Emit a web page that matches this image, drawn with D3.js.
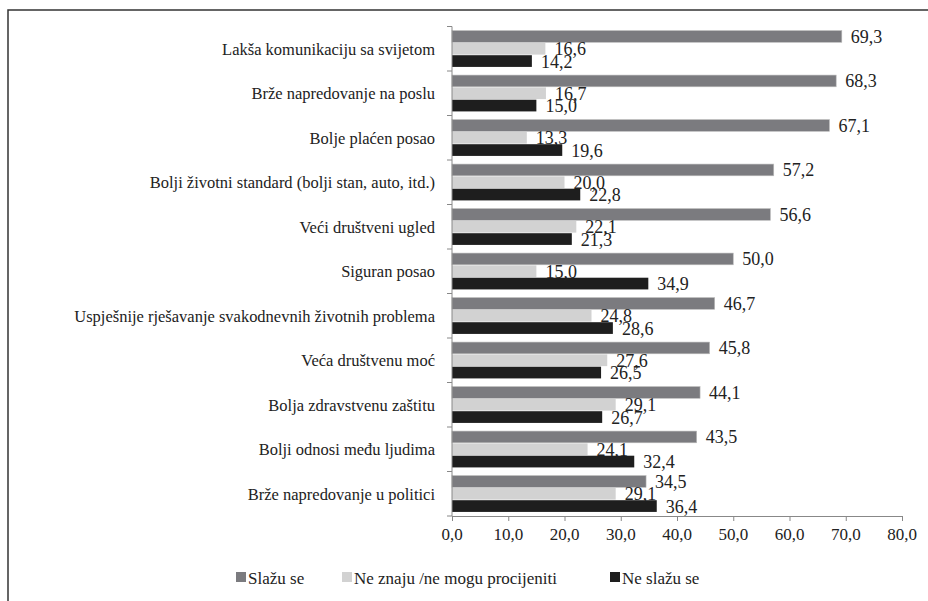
<!DOCTYPE html>
<html>
<head>
<meta charset="utf-8">
<script src="https://cdn.jsdelivr.net/npm/d3@7"></script>
</head>
<body style="margin:0">
<div id="chart"></div>
<script>
var categories = [
  "Lakša komunikaciju sa svijetom",
  "Brže napredovanje na poslu",
  "Bolje plaćen posao",
  "Bolji životni standard (bolji stan, auto, itd.)",
  "Veći društveni ugled",
  "Siguran posao",
  "Uspješnije rješavanje svakodnevnih životnih problema",
  "Veća društvenu moć",
  "Bolja zdravstvenu zaštitu",
  "Bolji odnosi među ljudima",
  "Brže napredovanje u politici"
];
var seriesNames = ["Slažu se", "Ne znaju /ne mogu procijeniti", "Ne slažu se"];
var slazuSe = [69.3, 68.3, 67.1, 57.2, 56.6, 50.0, 46.7, 45.8, 44.1, 43.5, 34.5];
var neZnaju = [16.6, 16.7, 13.3, 20.0, 22.1, 15.0, 24.8, 27.6, 29.1, 24.1, 29.1];
var neSlazuSe = [14.2, 15.0, 19.6, 22.8, 21.3, 34.9, 28.6, 26.5, 26.7, 32.4, 36.4];
var xTicks = [0, 10, 20, 30, 40, 50, 60, 70, 80];

var colors = ["#7b7b7f", "#d2d2d2", "#1e1e1e"];
var width = 928, height = 601;
var margin = {left: 452, right: 26, top: 26.5, bottom: 85};

var svg = d3.select('#chart').append('svg')
  .attr('width', width)
  .attr('height', height);

// frame
svg.append('rect')
  .attr('x', 8).attr('y', 10)
  .attr('width', width + 10).attr('height', height + 10)
  .attr('fill', 'none')
  .attr('stroke', '#333')
  .attr('stroke-width', 1.5);

var x = d3.scaleLinear()
  .domain([0, 80])
  .range([margin.left, width - margin.right]);

var y = d3.scaleBand()
  .domain(categories)
  .range([margin.top, height - margin.bottom])
  .paddingInner(0.17)
  .paddingOuter(0.085);

var sub = d3.scaleBand()
  .domain(d3.range(3))
  .range([0, y.bandwidth()]);

var rows = categories.map(function(c, i){
  return {cat: c, vals: [slazuSe[i], neZnaju[i], neSlazuSe[i]]};
});

var fmt = function(v){ return v.toFixed(1).replace('.', ','); };

// serif text drawn at 28px and scaled down to the wanted size
var addText = function(parent, size, tx, ty){
  return parent.append('g')
    .attr('transform', 'translate(' + tx + ',' + ty + ') scale(' + (size / 28) + ')')
    .append('text')
    .style('font-family', '"Liberation Serif"')
    .style('font-size', '28px')
    .style('fill', '#222');
};

var groups = svg.selectAll('.grp').data(rows)
  .enter().append('g')
  .attr('class', 'grp')
  .attr('transform', function(d){ return 'translate(0,' + y(d.cat) + ')'; });

groups.selectAll('rect').data(function(d){ return d.vals; })
  .enter().append('rect')
  .attr('x', x(0))
  .attr('y', function(d, j){ return sub(j) + 0.3; })
  .attr('height', sub.bandwidth() - 0.6)
  .attr('width', function(d){ return x(d) - x(0); })
  .attr('fill', function(d, j){ return colors[j]; })
  .attr('stroke', function(d, j){ return j == 0 ? '#bbb' : 'none'; })
  .attr('stroke-width', 0.6);

groups.each(function(d){
  var g = d3.select(this);
  d.vals.forEach(function(v, j){
    addText(g, 18, x(v) + 9, sub(j) + sub.bandwidth() / 2)
      .attr('dy', '0.36em')
      .text(fmt(v));
  });
});

// category axis
var yAxis = svg.append('g')
  .attr('transform', 'translate(' + x(0) + ',0)');
yAxis.append('line')
  .attr('x1', 0).attr('x2', 0)
  .attr('y1', margin.top).attr('y2', height - margin.bottom)
  .attr('stroke', '#888');
var bounds = categories.map(function(c){ return y(c) - y.step() * y.paddingInner() / 2; });
bounds.push(height - margin.bottom);
yAxis.selectAll('.tk').data(bounds)
  .enter().append('line')
  .attr('x1', -5).attr('x2', 0)
  .attr('y1', function(d){ return d; }).attr('y2', function(d){ return d; })
  .attr('stroke', '#888');
categories.forEach(function(c){
  addText(yAxis, 16.5, -17, y(c) + y.bandwidth() / 2)
    .attr('dy', '0.35em')
    .attr('text-anchor', 'end')
    .text(c);
});

// value axis
var xAxis = svg.append('g')
  .attr('transform', 'translate(0,' + (height - margin.bottom) + ')')
  .call(d3.axisBottom(x).tickValues(xTicks).tickSize(5).tickFormat(''));
xAxis.select('.domain').attr('stroke', '#888');
xAxis.selectAll('.tick line').attr('stroke', '#888');
xTicks.forEach(function(t){
  addText(svg, 17, x(t), height - margin.bottom + 24)
    .attr('text-anchor', 'middle')
    .text(fmt(t));
});

// legend
var legendX = [236, 342, 610];
seriesNames.forEach(function(name, i){
  var lg = svg.append('g')
    .attr('transform', 'translate(' + legendX[i] + ',578)');
  lg.append('rect')
    .attr('x', 0).attr('y', -6)
    .attr('width', 10).attr('height', 10)
    .attr('fill', colors[i]);
  addText(lg, 17, 12, 0)
    .attr('dy', '0.33em')
    .text(name);
});
</script>
</body>
</html>
